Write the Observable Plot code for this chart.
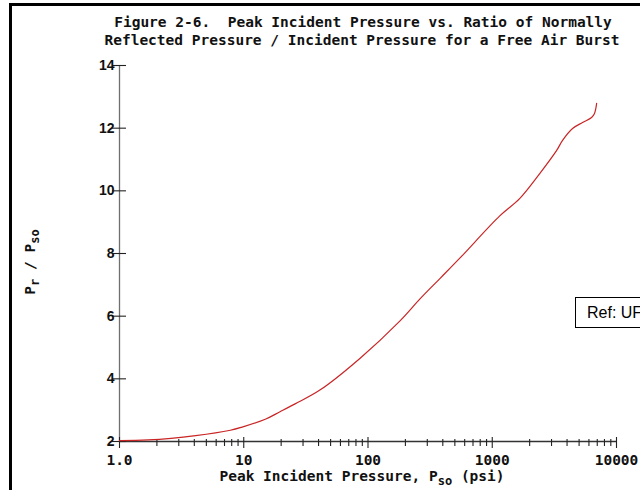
<!DOCTYPE html>
<html><head><meta charset="utf-8">
<script src="https://cdn.jsdelivr.net/npm/d3@7"></script>
<script src="https://cdn.jsdelivr.net/npm/@observablehq/plot@0.6"></script>
<style>
html,body{margin:0;padding:0;background:#fff;width:640px;height:490px;overflow:hidden;}
#wrap{position:relative;width:640px;height:490px;overflow:hidden;}
#chart{position:absolute;left:0;top:0;}
#frame{position:absolute;left:9px;top:3px;width:700px;height:600px;border-top:3px solid #000;border-left:3px solid #000;pointer-events:none;}
#ref{position:absolute;left:575px;top:297px;width:140px;height:31px;border:1px solid #000;box-sizing:border-box;font:16px "Liberation Sans",Arial,sans-serif;line-height:29px;padding-left:11px;white-space:nowrap;color:#000;background:#fff;}
.mono{font-family:"DejaVu Sans Mono",monospace;font-weight:bold;font-size:14.5px;color:#111;white-space:nowrap;}
#xlab{position:absolute;left:0;width:724px;top:468px;text-align:center;line-height:16px;}
#ylab{position:absolute;left:30px;top:262px;transform:translate(-50%,-50%) rotate(-90deg);line-height:16px;}
sub{font-size:12px;vertical-align:-4px;line-height:0;}
</style></head>
<body>
<div id="wrap">
  <div id="chart"></div>
  <div id="frame"></div>
  <div id="ref">Ref: UFC 3-340-02</div>
  <div id="xlab" class="mono">Peak Incident Pressure, P<sub>so</sub> (psi)</div>
  <div id="ylab" class="mono">P<sub>r</sub> / P<sub>so</sub></div>
</div>
<script>
// Data
const pressure = [1.0, 1.7, 4.1, 7.8, 9.7, 14.9, 19.6, 25.9, 41, 86, 181, 262, 379, 548, 1149, 1660, 2410, 3300, 3680, 4430, 5330, 6300, 6650, 6920];
const ratio    = [2.03, 2.05, 2.19, 2.36, 2.46, 2.71, 2.95, 3.2, 3.64, 4.65, 5.85, 6.55, 7.2, 7.85, 9.2, 9.75, 10.55, 11.29, 11.61, 11.99, 12.18, 12.34, 12.47, 12.79];

const titleLines = [
  "Figure 2-6.\u00a0 Peak Incident Pressure vs. Ratio of Normally",
  "Reflected Pressure / Incident Pressure for a Free Air Burst"
];
const xMajorTicks = [1, 10, 100, 1000, 10000];
const xTickLabels = ["1.0", "10", "100", "1000", "10000"];
const xMinorTicks = [2,3,4,5,6,7,8,9, 20,30,40,50,60,70,80,90, 200,300,400,500,600,700,800,900, 2000,3000,4000,5000,6000,7000,8000,9000];
const yTicks = [2, 4, 6, 8, 10, 12, 14];

const curve = pressure.map((p, i) => ({p, r: ratio[i]}));
const xLabelRows = xMajorTicks.map((v, i) => ({v, label: xTickLabels[i]}));
const mono = "DejaVu Sans Mono";

const chart = Plot.plot({
  width: 640,
  height: 490,
  marginLeft: 119,
  marginRight: 24,
  marginTop: 65,
  marginBottom: 49,
  style: {background: "transparent", overflow: "visible"},
  x: {type: "log", domain: [1, 10000], axis: null},
  y: {domain: [2, 14], axis: null},
  marks: [
    // axis lines
    Plot.ruleX([1], {stroke: "#6f6f6f", strokeWidth: 1.3}),
    Plot.ruleY([2], {stroke: "#333", strokeWidth: 1.3}),
    // y ticks crossing the axis
    Plot.ruleY(yTicks, {y: d => d, x1: 1, x2: 1, insetLeft: -7, insetRight: -7, stroke: "#222", strokeWidth: 1.1}),
    Plot.text(yTicks, {y: d => d, text: d => String(d), frameAnchor: "left", textAnchor: "end", dx: -5,
      fontSize: 14, fontWeight: "bold", fontFamily: "Liberation Sans", fill: "#111"}),
    // x ticks
    Plot.ruleX(xMajorTicks, {x: d => d, y1: 2, y2: 2, insetTop: -4, insetBottom: -7, stroke: "#222", strokeWidth: 1.1}),
    Plot.ruleX(xMinorTicks, {x: d => d, y1: 2, y2: 2, insetTop: -2, insetBottom: -5, stroke: "#222", strokeWidth: 1.1}),
    Plot.text(xLabelRows, {x: "v", text: "label", frameAnchor: "bottom", lineAnchor: "top", dy: 13,
      fontSize: 14.5, fontWeight: "bold", fontFamily: mono, fill: "#111"}),
    // curve
    Plot.line(curve, {x: "p", y: "r", stroke: "#c92525", strokeWidth: 1.2, curve: "catmull-rom"}),
    // title
    Plot.text([titleLines[0]], {frameAnchor: "top", dx: -5, dy: -49, fontSize: 14.5, fontWeight: "bold", fontFamily: mono, fill: "#111"}),
    Plot.text([titleLines[1]], {frameAnchor: "top", dx: -6, dy: -31, fontSize: 14.5, fontWeight: "bold", fontFamily: mono, fill: "#111"})
  ]
});
document.getElementById("chart").appendChild(chart);
</script>
</body></html>
